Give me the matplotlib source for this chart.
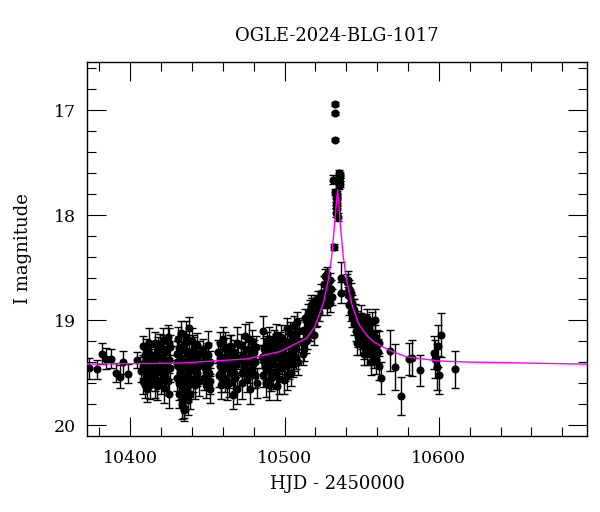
import matplotlib
matplotlib.use("Agg")
import matplotlib.pyplot as plt
from matplotlib.ticker import MultipleLocator

plt.rcParams['font.family'] = ['DejaVu Serif']

# photometry: HJD-2450000, I mag, error
hjd = [
    10373.0, 10378.6, 10381.4, 10384.5, 10387.3, 10390.7, 10393.7, 10395.5, 10398.5, 10404.5, 10406.7,
    # 10408-10413
    10408.2, 10408.4, 10408.6, 10409.3, 10409.5, 10410.3, 10410.5, 10410.7, 10411.3, 10411.5, 10412.4, 10412.6, 10413.2, 10413.4,
    # 10415-10426
    10415.6, 10415.8, 10416.0, 10416.4, 10416.7, 10417.0, 10417.5, 10417.8, 10419.2, 10419.5, 10419.8, 10420.3,
    10420.6, 10421.0, 10421.8, 10422.3, 10423.5, 10423.8, 10424.2, 10424.6, 10425.0, 10425.4, 10425.8,
    # 10430-10445
    10430.2, 10430.5, 10430.8, 10431.2, 10431.5, 10431.9, 10432.3, 10432.6, 10433.0, 10433.4, 10433.7, 10434.1,
    10434.4, 10434.8, 10435.2, 10435.5, 10435.9, 10436.3, 10436.6, 10437.0, 10437.4, 10437.8, 10438.3, 10438.7,
    10439.2, 10439.6, 10440.1, 10440.5, 10441.0, 10441.5, 10442.0, 10442.4, 10443.0, 10443.5, 10444.2, 10444.8,
    # 10447-10452
    10447.0, 10447.4, 10448.0, 10448.5, 10449.1, 10449.6, 10450.2, 10450.8, 10451.4, 10452.0,
    # 10457-10470
    10457.0, 10457.4, 10457.9, 10458.3, 10458.8, 10459.3, 10459.8, 10460.4, 10460.9, 10461.5, 10462.0, 10462.6,
    10463.2, 10463.8, 10464.5, 10465.2, 10465.8, 10466.5, 10466.9, 10467.5, 10468.2, 10468.8, 10469.4, 10469.8,
    # 10471-10482
    10471.5, 10472.0, 10472.6, 10473.2, 10473.8, 10474.5, 10475.1, 10475.8, 10476.4, 10477.0, 10477.7, 10478.3,
    10479.0, 10479.6, 10480.3, 10481.0, 10481.6,
    # 10485-10509
    10485.6, 10486.0, 10486.3, 10486.8, 10487.3, 10487.8, 10488.4, 10489.0, 10489.5, 10490.1, 10490.7, 10491.3,
    10491.8, 10492.4, 10493.0, 10493.6, 10494.2, 10494.8, 10495.0, 10495.6, 10496.2, 10496.8, 10497.4, 10498.0,
    10498.6, 10499.2, 10499.9, 10500.5, 10501.1, 10501.7, 10502.3, 10502.9, 10503.5, 10504.1, 10504.7, 10505.3,
    10505.9, 10506.5, 10507.1, 10507.7, 10508.3, 10508.9,
    # 10512-10523
    10511.8, 10512.3, 10512.8, 10513.3, 10513.9, 10514.5, 10515.0, 10515.6, 10516.2, 10516.8, 10517.4, 10518.0,
    10518.6, 10519.2, 10519.8, 10520.4, 10521.0, 10521.6, 10522.2, 10522.8, 10523.4,
    # rise
    10525.4, 10525.8, 10526.3, 10526.8, 10527.3, 10527.8, 10528.2, 10528.7, 10529.2, 10529.6, 10530.1, 10530.5,
    # peak
    10531.6, 10532.3, 10532.7, 10532.7, 10532.7,
    10533.0, 10533.2, 10533.4, 10533.5, 10533.7, 10533.9, 10534.0, 10534.2, 10534.4, 10535.3, 10535.5, 10535.6,
    10535.8, 10535.9, 10536.0, 10536.3, 10536.3,
    # decline
    10540.6, 10541.0, 10541.5, 10542.0, 10542.5, 10543.0, 10543.5, 10544.0, 10544.5, 10545.0, 10545.6, 10546.2,
    10546.8, 10547.4, 10548.0, 10548.6, 10549.2, 10549.8, 10550.4, 10551.0, 10551.6,
    10552.5, 10553.0, 10553.6, 10554.2, 10554.8, 10555.4, 10556.0, 10556.6, 10557.2, 10557.8, 10558.4, 10559.0,
    10559.6, 10560.2, 10560.8, 10561.4, 10562.2,
    # late sparse points
    10568.3, 10571.5, 10575.4, 10580.6, 10582.3, 10587.7,
    10597.0, 10597.7, 10598.5, 10599.5, 10600.2, 10601.1, 10610.4,
    # more points inside the dense nights
    10409.0, 10411.9, 10412.9,
    10416.2, 10418.0, 10421.4, 10422.8, 10424.9, 10426.0,
    10430.6, 10431.7, 10433.2, 10434.6, 10435.0, 10436.1, 10437.2, 10438.0, 10439.0, 10440.8, 10442.7, 10444.5,
    10448.2, 10450.5, 10451.7,
    10458.1, 10459.0, 10461.2, 10462.9, 10464.0, 10465.5, 10467.2, 10469.1,
    10472.3, 10474.0, 10476.7, 10478.7, 10480.6, 10482.0,
    10486.5, 10488.0, 10489.8, 10491.0, 10492.7, 10494.5, 10496.5, 10498.3, 10500.2, 10501.4, 10503.2, 10504.4,
    10506.2, 10507.4, 10508.6, 10509.2,
    10512.0, 10513.6, 10515.3, 10517.1, 10518.9, 10520.1, 10521.3, 10523.1,
    10541.2, 10543.2, 10545.3, 10547.1, 10549.5, 10551.3, 10553.3, 10556.3, 10558.7, 10561.0,
]

mag = [
    19.46, 19.47, 19.32, 19.37, 19.37, 19.50, 19.54, 19.40, 19.51, 19.38, 19.49,
    19.25, 19.44, 19.58, 19.33, 19.62, 19.28, 19.48, 19.66, 19.39, 19.55, 19.31, 19.45, 19.52, 19.36,
    19.40, 19.22, 19.55, 19.32, 19.47, 19.36, 19.63, 19.28, 19.24, 19.44, 19.57, 19.35,
    19.50, 19.19, 19.65, 19.41, 19.30, 19.48, 19.16, 19.58, 19.38, 19.70, 19.26,
    19.32, 19.55, 19.18, 19.44, 19.70, 19.27, 19.50, 19.62, 19.12, 19.38, 19.80, 19.46,
    19.58, 19.86, 19.22, 19.72, 19.40, 19.65, 19.30, 19.52, 19.76, 19.08, 19.45, 19.60,
    19.34, 19.48, 19.20, 19.56, 19.42, 19.28, 19.62, 19.36, 19.50, 19.24, 19.44, 19.32,
    19.42, 19.28, 19.55, 19.36, 19.62, 19.46, 19.33, 19.50, 19.40, 19.58,
    19.30, 19.52, 19.22, 19.44, 19.62, 19.35, 19.48, 19.18, 19.40, 19.56, 19.28, 19.46,
    19.35, 19.60, 19.25, 19.50, 19.38, 19.44, 19.71, 19.30, 19.55, 19.42, 19.66, 19.36,
    19.38, 19.24, 19.50, 19.32, 19.45, 19.15, 19.40, 19.56, 19.28, 19.48, 19.66, 19.35,
    19.20, 19.42, 19.30, 19.52, 19.26,
    19.35, 19.10, 19.52, 19.28, 19.44, 19.60, 19.22, 19.38, 19.48, 19.18, 19.32, 19.55,
    19.26, 19.42, 19.20, 19.36, 19.50, 19.14, 19.63, 19.30, 19.44, 19.22, 19.38, 19.16,
    19.46, 19.28, 19.57, 19.20, 19.34, 19.08, 19.40, 19.24, 19.12, 19.32, 19.18, 19.42,
    19.06, 19.26, 19.14, 19.36, 19.02, 19.20,
    19.22, 19.10, 19.28, 18.98, 19.12, 19.18, 18.94, 19.04, 18.90, 19.10, 18.98, 18.88,
    19.04, 18.92, 18.84, 18.98, 18.86, 18.80, 18.92, 18.80, 18.74,
    18.66, 18.80, 18.58, 18.72, 18.56, 18.86, 18.68, 18.76, 18.62, 18.84, 18.70, 18.78,
    17.66, 18.30, 16.94, 17.03, 17.28,
    17.78, 17.98, 17.90, 17.84, 17.94, 17.80, 17.88, 17.83, 18.02, 17.72, 17.60, 17.66,
    17.62, 17.70, 17.64, 18.60, 18.74,
    18.64, 18.76, 18.70, 18.86, 18.78, 18.92, 18.84, 18.98, 18.88, 19.04, 18.94, 19.10,
    19.00, 19.16, 19.06, 19.22, 19.12, 19.02, 19.18, 19.08, 19.26,
    19.04, 19.14, 18.98, 19.20, 19.08, 19.28, 19.12, 19.02, 19.22, 19.34, 19.16, 19.26,
    19.38, 19.20, 19.30, 19.44, 19.55,
    19.29, 19.45, 19.72, 19.37, 19.36, 19.48,
    19.31, 19.37, 19.45, 19.25, 19.52, 19.14, 19.47,
    19.48, 19.22, 19.62,
    19.60, 19.45, 19.28, 19.55, 19.22, 19.46,
    19.40, 19.60, 19.28, 19.70, 19.84, 19.16, 19.62, 19.34, 19.70, 19.30, 19.48, 19.58,
    19.46, 19.24, 19.66,
    19.36, 19.54, 19.26, 19.62, 19.42, 19.30, 19.50, 19.22,
    19.60, 19.36, 19.18, 19.50, 19.40, 19.60,
    19.40, 19.30, 19.62, 19.40, 19.52, 19.28, 19.56, 19.36, 19.44, 19.52, 19.42, 19.50,
    19.36, 19.28, 19.40, 19.10,
    19.32, 19.20, 19.08, 18.86, 19.14, 18.90, 18.96, 18.86,
    18.62, 18.74, 18.90, 19.22, 18.96, 19.32, 19.32, 19.40, 19.00, 19.22,
]

err = [
    0.10, 0.09, 0.10, 0.10, 0.09, 0.09, 0.11, 0.11, 0.09, 0.08, 0.10,
    0.10, 0.11, 0.12, 0.10, 0.12, 0.10, 0.11, 0.12, 0.11, 0.12, 0.10, 0.11, 0.12, 0.10,
    0.12, 0.11, 0.13, 0.12, 0.12, 0.11, 0.13, 0.12, 0.11, 0.12, 0.13, 0.12,
    0.12, 0.11, 0.14, 0.12, 0.11, 0.12, 0.11, 0.13, 0.12, 0.14, 0.12,
    0.12, 0.13, 0.11, 0.12, 0.14, 0.12, 0.13, 0.13, 0.11, 0.12, 0.14, 0.13,
    0.13, 0.10, 0.12, 0.14, 0.13, 0.13, 0.12, 0.13, 0.14, 0.11, 0.12, 0.13,
    0.12, 0.13, 0.12, 0.13, 0.12, 0.12, 0.13, 0.12, 0.13, 0.12, 0.12, 0.12,
    0.11, 0.10, 0.12, 0.11, 0.12, 0.11, 0.11, 0.12, 0.11, 0.12,
    0.11, 0.12, 0.11, 0.11, 0.13, 0.11, 0.12, 0.11, 0.12, 0.13, 0.11, 0.12,
    0.11, 0.13, 0.11, 0.12, 0.12, 0.12, 0.14, 0.11, 0.13, 0.12, 0.14, 0.11,
    0.12, 0.11, 0.12, 0.11, 0.12, 0.11, 0.12, 0.13, 0.11, 0.12, 0.14, 0.12,
    0.11, 0.12, 0.11, 0.13, 0.11,
    0.11, 0.14, 0.12, 0.11, 0.12, 0.13, 0.11, 0.12, 0.12, 0.11, 0.11, 0.13,
    0.11, 0.12, 0.11, 0.11, 0.12, 0.10, 0.13, 0.11, 0.12, 0.11, 0.11, 0.11,
    0.12, 0.11, 0.13, 0.11, 0.11, 0.10, 0.12, 0.11, 0.10, 0.11, 0.10, 0.12,
    0.10, 0.11, 0.10, 0.11, 0.10, 0.10,
    0.10, 0.10, 0.11, 0.09, 0.10, 0.10, 0.09, 0.09, 0.09, 0.10, 0.09, 0.09,
    0.09, 0.09, 0.08, 0.09, 0.08, 0.08, 0.09, 0.08, 0.08,
    0.08, 0.08, 0.07, 0.08, 0.07, 0.09, 0.08, 0.08, 0.07, 0.08, 0.08, 0.08,
    0.04, 0.03, 0.015, 0.015, 0.015,
    0.03, 0.04, 0.03, 0.03, 0.04, 0.03, 0.03, 0.03, 0.04, 0.03, 0.03, 0.03,
    0.03, 0.03, 0.03, 0.15, 0.10,
    0.08, 0.08, 0.08, 0.09, 0.08, 0.09, 0.08, 0.09, 0.08, 0.10, 0.09, 0.10,
    0.09, 0.10, 0.10, 0.11, 0.10, 0.09, 0.10, 0.10, 0.11,
    0.10, 0.10, 0.09, 0.11, 0.10, 0.12, 0.10, 0.10, 0.11, 0.12, 0.11, 0.11,
    0.13, 0.11, 0.12, 0.13, 0.15,
    0.20, 0.22, 0.18, 0.15, 0.17, 0.15,
    0.16, 0.18, 0.22, 0.20, 0.18, 0.21, 0.18,
    0.13, 0.14, 0.13,
    0.14, 0.13, 0.14, 0.13, 0.14, 0.13,
    0.15, 0.16, 0.15, 0.16, 0.09, 0.15, 0.16, 0.15, 0.15, 0.16, 0.15, 0.14,
    0.14, 0.14, 0.13,
    0.15, 0.15, 0.15, 0.14, 0.15, 0.16, 0.15, 0.15,
    0.15, 0.15, 0.16, 0.15, 0.15, 0.14,
    0.15, 0.15, 0.14, 0.15, 0.14, 0.15, 0.14, 0.15, 0.14, 0.15, 0.14, 0.13,
    0.13, 0.13, 0.12, 0.12,
    0.11, 0.11, 0.11, 0.10, 0.10, 0.10, 0.10, 0.09,
    0.09, 0.09, 0.10, 0.11, 0.10, 0.11, 0.11, 0.12, 0.11, 0.12,
]

# microlensing model curve
model_hjd = [10372.0, 10432.0, 10475.5, 10497.0, 10508.0, 10514.4, 10519.7, 10525.1, 10528.3,
             10530.5, 10532.7, 10533.6, 10534.4, 10535.2, 10535.9, 10538.1, 10540.3, 10543.5,
             10547.8, 10551.0, 10554.2, 10558.0, 10568.3, 10579.0, 10600.6, 10620.0, 10696.0]
model_mag = [19.42, 19.41, 19.37, 19.30, 19.22, 19.17, 19.06, 18.84, 18.62,
             18.40, 18.05, 17.88, 17.76, 17.88, 18.05, 18.40, 18.62, 18.84,
             19.03, 19.10, 19.16, 19.21, 19.29, 19.35, 19.39, 19.40, 19.42]

fig = plt.figure(figsize=(6, 5.12), dpi=100)
ax = fig.add_axes([0.145, 0.1484, 0.8333, 0.7305])

ax.errorbar(hjd, mag, yerr=err, fmt='o', color='black', ms=4.8, elinewidth=1.0,
            capsize=3, capthick=1.0, zorder=2)
ax.plot(model_hjd, model_mag, color='#ff00ff', lw=1.0, zorder=3)

ax.set_xlim(10372, 10696)
ax.set_ylim(20.105, 16.54)

ax.xaxis.set_major_locator(MultipleLocator(100))
ax.xaxis.set_minor_locator(MultipleLocator(20))
ax.yaxis.set_major_locator(MultipleLocator(1))
ax.yaxis.set_minor_locator(MultipleLocator(0.2))
ax.tick_params(which='both', direction='in', top=True, right=True, labelsize=12.5)
ax.tick_params(which='major', length=13.5, width=0.8)
ax.tick_params(which='minor', length=6.5, width=0.8)
ax.tick_params(axis='x', pad=10)
ax.tick_params(axis='y', pad=8)
for s in ax.spines.values():
    s.set_linewidth(1.0)

ax.set_title('OGLE-2024-BLG-1017', fontsize=13, pad=15)
ax.set_xlabel('HJD - 2450000', fontsize=13, labelpad=6)
ax.set_ylabel('I magnitude', fontsize=13, labelpad=16)

fig.savefig('out.png', dpi=100)
